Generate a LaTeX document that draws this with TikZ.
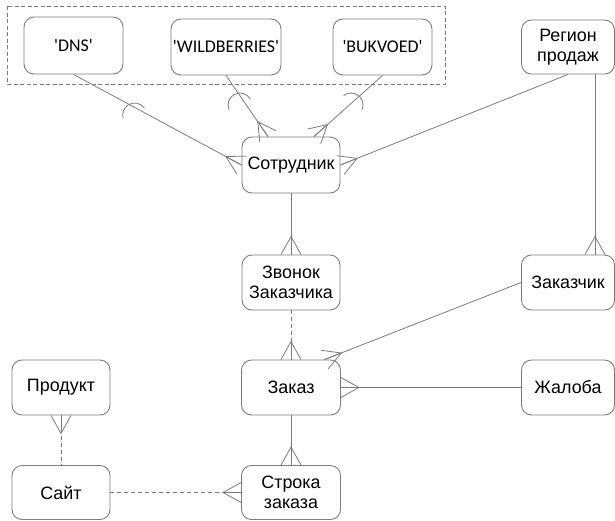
\documentclass[tikz,border=0pt]{standalone}
\usepackage{fontspec}
\setmainfont{Liberation Sans}
\newfontfamily\latfont{Carlito}
\usetikzlibrary{calc}
\definecolor{linegray}{RGB}{125,125,125}
\tikzset{
  ent/.style={draw=linegray, rounded corners=10pt, line width=0.9pt, align=center,
    font=\fontsize{17.9}{20.5}\selectfont, inner sep=0pt, text=black},
  rel/.style={draw=linegray, line width=0.8pt},
  reldash/.style={rel, dash pattern=on 4pt off 3pt},
  framebox/.style={draw=linegray, line width=0.8pt, dash pattern=on 4pt off 2.5pt},
}
\newcommand\crowfoot[2]{%
  \draw[rel] ($(#1)!10pt!90:(#2)$) -- ($(#1)!18pt!(#2)$) -- ($(#1)!10pt!-90:(#2)$);
  \draw[rel] ($(#1)!18pt!(#2)$) -- (#1);}
\begin{document}
\begin{tikzpicture}[x=1pt,y=1pt]
\useasboundingbox (0,0) rectangle (615,-520);
% frame
\draw[framebox] (7,-6) rectangle (445,-84);
% entities
\node[ent, minimum width=99pt, minimum height=57pt] (dns) at (73.5,-45.5) {\latfont\textquotesingle DNS\textquotesingle};
\node[ent, minimum width=110pt, minimum height=56pt] (wb) at (226,-47) {\latfont\textquotesingle WILDBERRIES\textquotesingle};
\node[ent, minimum width=99pt, minimum height=56pt] (buk) at (382.5,-47) {\latfont\textquotesingle BUKVOED\textquotesingle};
\node[ent, minimum width=93pt, minimum height=54pt] (reg) at (568,-47) {Регион\\продаж};
\node[ent, minimum width=98pt, minimum height=56pt] (sotr) at (291,-165) {Сотрудник};
\node[ent, minimum width=98pt, minimum height=55pt] (zvon) at (291,-282.5) {Звонок\\Заказчика};
\node[ent, minimum width=93pt, minimum height=55pt] (zchik) at (568,-282.5) {Заказчик};
\node[ent, minimum width=99pt, minimum height=55pt] (zakaz) at (291,-387.5) {Заказ};
\node[ent, minimum width=93pt, minimum height=55pt] (zhal) at (568,-387.5) {Жалоба};
\node[ent, minimum width=98pt, minimum height=55pt] (prod) at (61,-387.5) {Продукт};
\node[ent, minimum width=98pt, minimum height=54pt] (sait) at (61,-492.5) {Сайт};
\node[ent, minimum width=99pt, minimum height=54pt] (stroka) at (291,-492.5) {Строка\\заказа};
% helper points
\coordinate (wbE) at ($(sotr.north)+(-23,0)$);
\coordinate (bukE) at ($(sotr.north)+(23,0)$);
\coordinate (regV1) at ($(reg.south)+(27,0)$);
\coordinate (regV2) at ($(zchik.north)+(27,0)$);
\coordinate (zkE) at ($(zakaz.north)+(33.5,0)$);
% connectors
\draw[rel] (dns.south) -- (sotr.west); \crowfoot{sotr.west}{dns.south}
\draw[rel] (wb.south) -- (wbE); \crowfoot{wbE}{wb.south}
\draw[rel] (buk.south) -- (bukE); \crowfoot{bukE}{buk.south}
\draw[rel] (reg.south) -- (sotr.east); \crowfoot{sotr.east}{reg.south}
\draw[rel] (regV1) -- (regV2); \crowfoot{regV2}{regV1}
\draw[rel] (sotr.south) -- (zvon.north); \crowfoot{zvon.north}{sotr.south}
\draw[reldash] (zvon.south) -- (zakaz.north); \crowfoot{zakaz.north}{zvon.south}
\draw[rel] (zchik.west) -- (zkE); \crowfoot{zkE}{zchik.west}
\draw[rel] (zakaz.east) -- (zhal.west); \crowfoot{zakaz.east}{zhal.west}
\draw[rel] (zakaz.south) -- (stroka.north); \crowfoot{stroka.north}{zakaz.south}
\draw[reldash] (prod.south) -- (sait.north); \crowfoot{prod.south}{sait.north}
\draw[reldash] (sait.east) -- (stroka.west); \crowfoot{stroka.west}{sait.east}
% arcs
\draw[rel] (134.7,-115) ++(35:12) arc[start angle=35, end angle=196, radius=12];
\draw[rel] (240,-105) ++(30:12) arc[start angle=30, end angle=205, radius=12];
\draw[rel] (351,-105) ++(-25:12) arc[start angle=-25, end angle=128, radius=12];
\end{tikzpicture}
\end{document}
